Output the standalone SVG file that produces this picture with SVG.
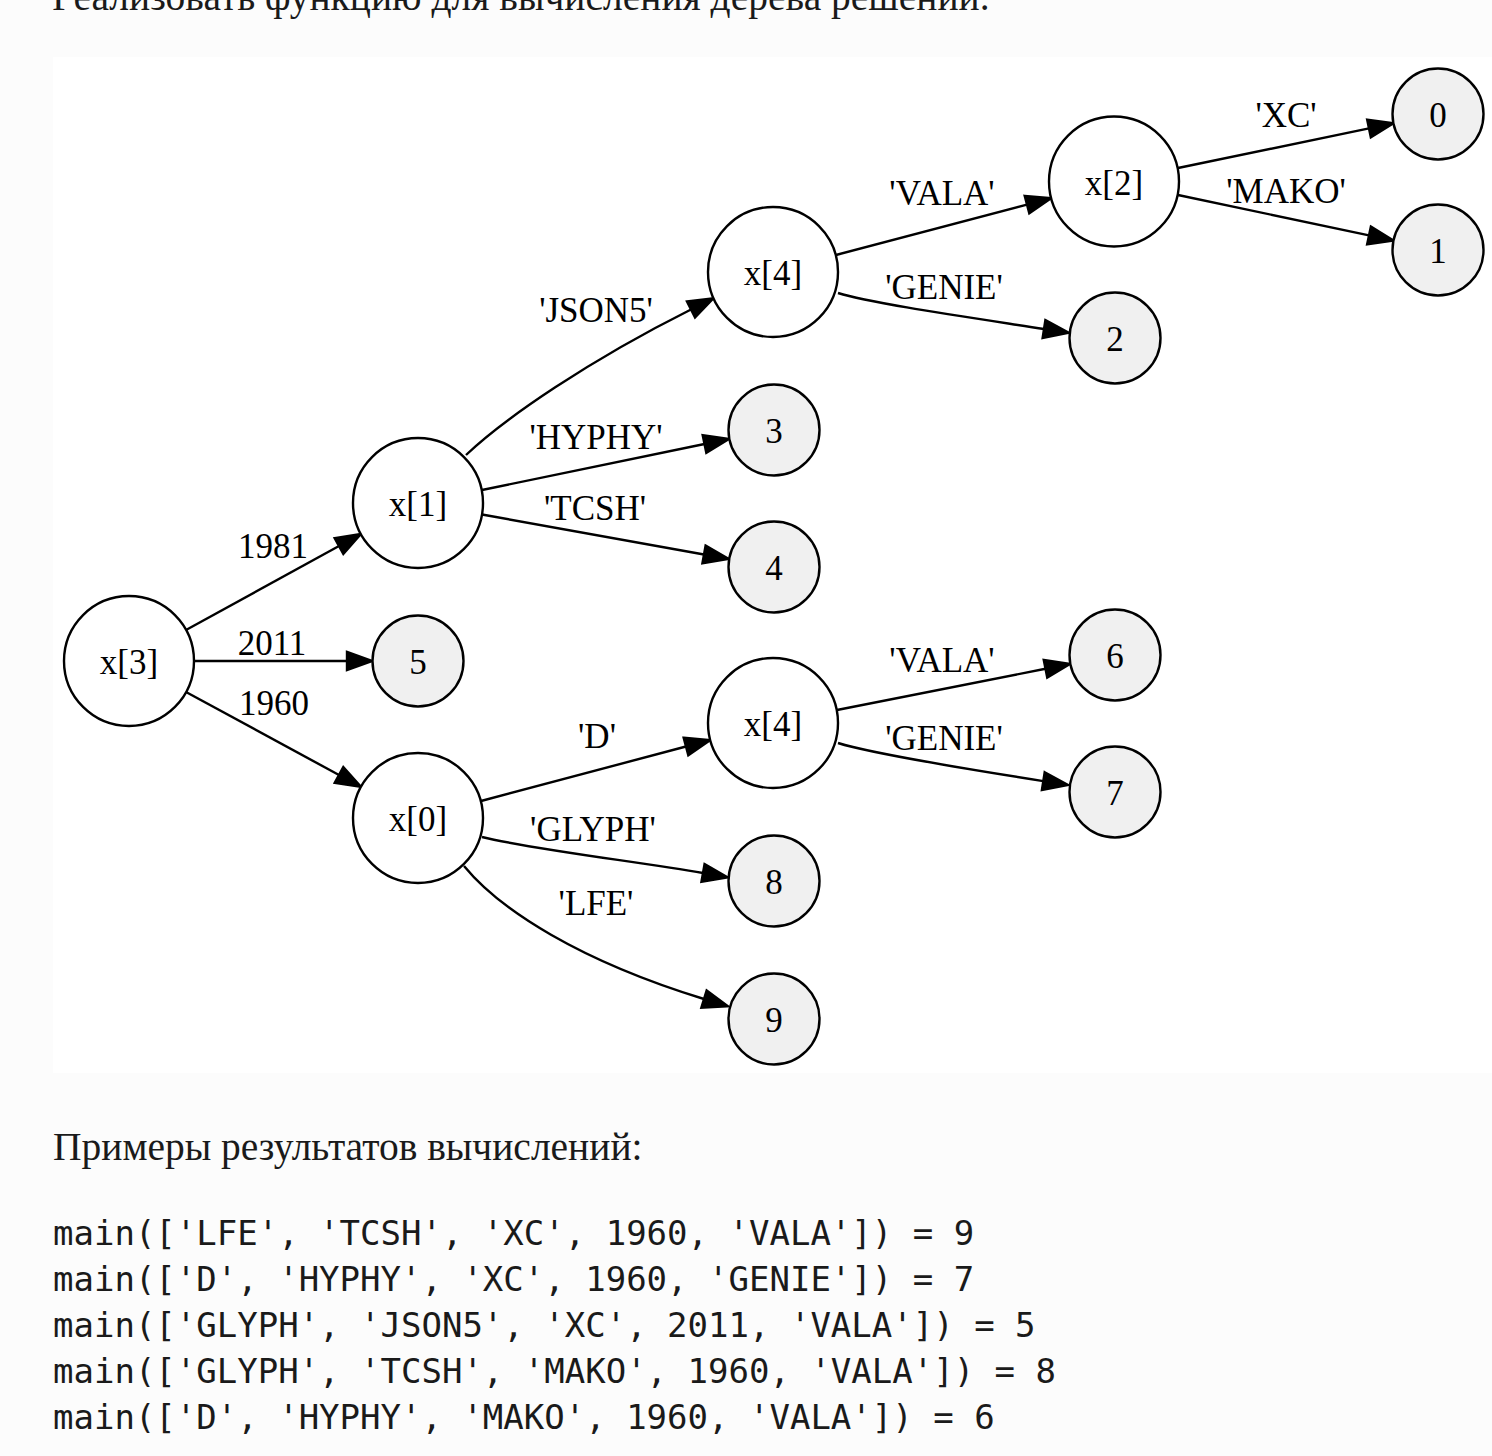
<svg xmlns="http://www.w3.org/2000/svg" width="1492" height="1456" viewBox="0 0 1492 1456">
<style>
.bg{fill:#fcfcfc}
.panel{fill:#ffffff}
.n{fill:#ffffff;stroke:#000;stroke-width:2.4}
.leaf{fill:#f0f0f0;stroke:#000;stroke-width:2.4}
.t{font-family:"Liberation Serif","Times New Roman",serif;font-size:35px;fill:#000;text-anchor:middle}
.e{fill:none;stroke:#000;stroke-width:2.4;marker-end:url(#ah)}
.body{font-family:"Liberation Serif","Times New Roman",serif;font-size:39.5px;fill:#1a1a1a}
.code{font-family:"DejaVu Sans Mono","Liberation Mono",monospace;font-size:34px;fill:#1a1a1a}
</style>
<defs>
<marker id="ah" markerUnits="userSpaceOnUse" viewBox="-3 -12 31 24" markerWidth="31" markerHeight="24" refX="0" refY="0" orient="auto">
<path d="M0,-9 L25,0 L0,9 Z" fill="#000" stroke="#000" stroke-width="2.4"/>
</marker>
</defs>
<rect class="bg" x="0" y="0" width="1492" height="1456"/>
<rect class="panel" x="53" y="57" width="1439" height="1016"/>
<text class="body" x="52" y="10">Реализовать функцию для вычисления дерева решений.</text>

<g id="edges">
<path class="e" d="M186,630 L339,546"/>
<path class="e" d="M194,661 L347,661"/>
<path class="e" d="M186,692 L339,775"/>
<path class="e" d="M466,455 C505,418 590,360 691,309.5"/>
<path class="e" d="M482,490 L704.5,444"/>
<path class="e" d="M482,514.5 L704,554.5"/>
<path class="e" d="M481,801 L686,746.5"/>
<path class="e" d="M482,837 C530,849 640,862 703,873"/>
<path class="e" d="M464,866 C500,910 580,961 704,999"/>
<path class="e" d="M836,255 L1027,204.6"/>
<path class="e" d="M838,293 C870,303 960,316 1044,329"/>
<path class="e" d="M1178,168 L1369,128.4"/>
<path class="e" d="M1178,195 L1369,235.4"/>
<path class="e" d="M837,710 L1045.5,668.8"/>
<path class="e" d="M838,743 C870,753 960,768 1043.3,781.1"/>
<text class="t" x="273" y="558">1981</text>
<text class="t" x="272" y="655">2011</text>
<text class="t" x="274" y="715">1960</text>
<text class="t" x="596" y="322">'JSON5'</text>
<text class="t" x="596" y="449">'HYPHY'</text>
<text class="t" x="595" y="520">'TCSH'</text>
<text class="t" x="597" y="748">'D'</text>
<text class="t" x="593" y="841">'GLYPH'</text>
<text class="t" x="596" y="915">'LFE'</text>
<text class="t" x="942" y="205">'VALA'</text>
<text class="t" x="944" y="299">'GENIE'</text>
<text class="t" x="942" y="672">'VALA'</text>
<text class="t" x="944" y="750">'GENIE'</text>
<text class="t" x="1286" y="127">'XC'</text>
<text class="t" x="1286" y="203">'MAKO'</text>
</g>

<g id="n_x3"><circle class="n" cx="129" cy="661" r="65"/><text class="t" x="129" y="674">x[3]</text></g>
<g id="n_x1"><circle class="n" cx="418" cy="503" r="65"/><text class="t" x="418" y="516">x[1]</text></g>
<g id="n_x0"><circle class="n" cx="418" cy="818" r="65"/><text class="t" x="418" y="831">x[0]</text></g>
<g id="n_x4a"><circle class="n" cx="773" cy="272" r="65"/><text class="t" x="773" y="285">x[4]</text></g>
<g id="n_x4b"><circle class="n" cx="773" cy="723" r="65"/><text class="t" x="773" y="736">x[4]</text></g>
<g id="n_x2"><circle class="n" cx="1114" cy="181.5" r="65"/><text class="t" x="1114" y="194.5">x[2]</text></g>
<g id="n_5"><circle class="leaf" cx="418" cy="661" r="45.5"/><text class="t" x="418" y="674">5</text></g>
<g id="n_3"><circle class="leaf" cx="774" cy="430" r="45.5"/><text class="t" x="774" y="443">3</text></g>
<g id="n_4"><circle class="leaf" cx="774" cy="567" r="45.5"/><text class="t" x="774" y="580">4</text></g>
<g id="n_8"><circle class="leaf" cx="774" cy="881" r="45.5"/><text class="t" x="774" y="894">8</text></g>
<g id="n_9"><circle class="leaf" cx="774" cy="1019" r="45.5"/><text class="t" x="774" y="1032">9</text></g>
<g id="n_2"><circle class="leaf" cx="1115" cy="338" r="45.5"/><text class="t" x="1115" y="351">2</text></g>
<g id="n_6"><circle class="leaf" cx="1115" cy="655" r="45.5"/><text class="t" x="1115" y="668">6</text></g>
<g id="n_7"><circle class="leaf" cx="1115" cy="792" r="45.5"/><text class="t" x="1115" y="805">7</text></g>
<g id="n_0"><circle class="leaf" cx="1438" cy="114" r="45.5"/><text class="t" x="1438" y="127">0</text></g>
<g id="n_1"><circle class="leaf" cx="1438" cy="250" r="45.5"/><text class="t" x="1438" y="263">1</text></g>

<text class="body" x="53" y="1160">Примеры результатов вычислений:</text>
<text class="code" x="53" y="1245">main(['LFE', 'TCSH', 'XC', 1960, 'VALA']) = 9</text>
<text class="code" x="53" y="1291">main(['D', 'HYPHY', 'XC', 1960, 'GENIE']) = 7</text>
<text class="code" x="53" y="1337">main(['GLYPH', 'JSON5', 'XC', 2011, 'VALA']) = 5</text>
<text class="code" x="53" y="1383">main(['GLYPH', 'TCSH', 'MAKO', 1960, 'VALA']) = 8</text>
<text class="code" x="53" y="1429">main(['D', 'HYPHY', 'MAKO', 1960, 'VALA']) = 6</text>
</svg>
